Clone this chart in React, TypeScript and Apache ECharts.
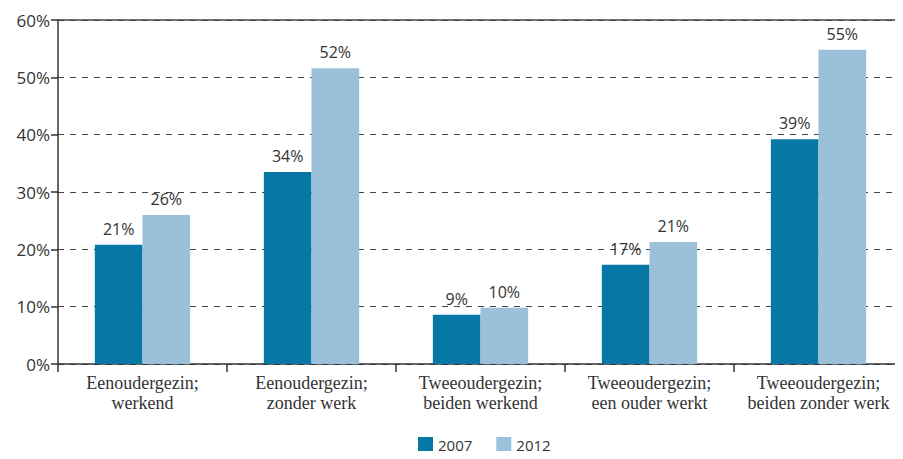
import React, { useEffect, useRef } from "react";
import * as echarts from "echarts";

const categories = [
  "Eenoudergezin;\nwerkend",
  "Eenoudergezin;\nzonder werk",
  "Tweeoudergezin;\nbeiden werkend",
  "Tweeoudergezin;\neen ouder werkt",
  "Tweeoudergezin;\nbeiden zonder werk",
];
const seriesNames = ["2007", "2012"];
const values2007 = [20.8, 33.5, 8.6, 17.3, 39.2];
const values2012 = [26.0, 51.6, 9.8, 21.3, 54.8];
const colors = ["#0777a6", "#9bc0d9"];

export default function App() {
  const ref = useRef<HTMLDivElement>(null);
  useEffect(() => {
    if (!ref.current) return;
    const chart = echarts.init(ref.current, null, { renderer: "svg" });
    const labelCfg = {
      show: true,
      position: "top",
      distance: 8,
      color: "#333",
      fontFamily: "Open Sans",
      fontSize: 16,
      formatter: (p: any) => Math.round(p.value) + "%",
    };
    chart.setOption({
      animation: false,
      grid: { left: 58, right: -5, top: 20, bottom: 95, containLabel: false },
      legend: {
        bottom: 2,
        left: 413,
        itemWidth: 15,
        itemHeight: 15,
        itemGap: 24,
        icon: "rect",
        textStyle: { fontFamily: "Open Sans", fontSize: 15, color: "#333" },
        data: seriesNames,
      },
      xAxis: [
        {
          type: "category",
          data: categories,
          axisLine: { show: true, lineStyle: { color: "#333", width: 1.5 } },
          axisTick: { show: true, length: 8, lineStyle: { color: "#333", width: 1.5 } },
          axisLabel: {
            interval: 0,
            hideOverlap: false,
            color: "#333",
            fontFamily: "Liberation Serif",
            fontSize: 18,
            lineHeight: 20,
            margin: 9,
          },
        },
        {
          type: "category",
          position: "top",
          data: categories,
          axisLine: { show: true, lineStyle: { color: "#444", width: 1.5 } },
          axisTick: { show: false },
          axisLabel: { show: false },
        },
      ],
      yAxis: {
        type: "value",
        min: 0,
        max: 60,
        interval: 10,
        axisLine: { show: true, lineStyle: { color: "#333", width: 1.5 } },
        axisTick: { show: true, length: 7, lineStyle: { color: "#333", width: 1.5 } },
        axisLabel: {
          color: "#333",
          fontFamily: "Open Sans",
          fontSize: 17,
          margin: 8,
          formatter: "{value}%",
        },
        splitLine: { show: true, lineStyle: { color: "#444", type: [6, 6], width: 1 } },
      },
      series: [
        {
          name: seriesNames[0],
          type: "bar",
          data: values2007,
          itemStyle: { color: colors[0] },
          barWidth: "28.2%",
          barGap: "0%",
          label: labelCfg,
        },
        {
          name: seriesNames[1],
          type: "bar",
          data: values2012,
          itemStyle: { color: colors[1] },
          barWidth: "28.2%",
          barGap: "0%",
          label: labelCfg,
        },
      ],
    });
    return () => chart.dispose();
  }, []);
  return <div ref={ref} style={{ width: 903, height: 459, margin: -8 }} />;
}
